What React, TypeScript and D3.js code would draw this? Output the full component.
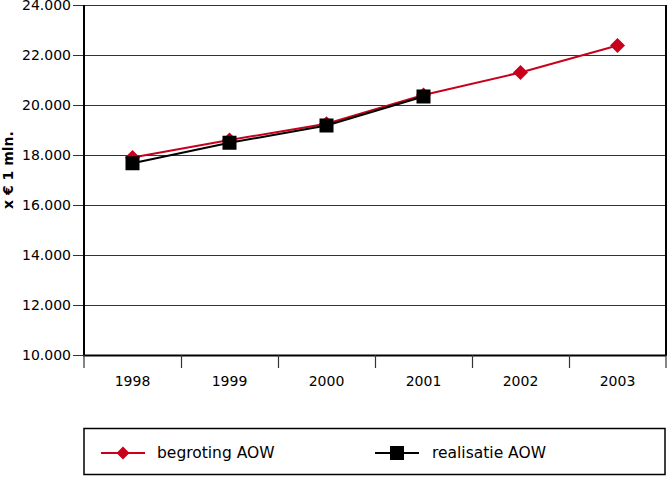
import React from "react";
import * as d3 from "d3";

const years = ["1998", "1999", "2000", "2001", "2002", "2003"];
const begroting = [17900, 18600, 19250, 20400, 21300, 22380];
const realisatie = [17670, 18490, 19180, 20340];
const yTicks = [10000, 12000, 14000, 16000, 18000, 20000, 22000, 24000];
const seriesNames = ["begroting AOW", "realisatie AOW"];
const yLabel = "x € 1 mln.";

const RED = "#c8001c";
const FONT = "DejaVu Sans, Verdana, sans-serif";

export default function App() {
  const W = 668, H = 477;
  const left = 84, right = 666, top = 5, bottom = 355;
  const x = d3.scaleBand<string>().domain(years).range([left, right]);
  const y = d3.scaleLinear().domain([10000, 24000]).range([bottom, top]);
  const fmt = (v: number) => d3.format(",")(v).replace(/,/g, ".");
  const cx = (i: number) => (x(years[i]) as number) + x.bandwidth() / 2;

  const line = d3.line<number>().x((_, i) => cx(i)).y((d) => y(d));
  const diamond = (px: number, py: number, r: number) =>
    `M${px},${py - r}L${px + r},${py}L${px},${py + r}L${px - r},${py}Z`;

  return (
    <svg width={W} height={H} style={{ position: "absolute", left: 0, top: 0, background: "#fff" }} fontFamily={FONT}>
      {/* gridlines */}
      {yTicks.map((t) => (
        <g key={t}>
          <line x1={73} x2={right} y1={y(t) + 0.5} y2={y(t) + 0.5} stroke="#333" strokeWidth={1.2} />
          <text x={71} y={y(t) + 5} textAnchor="end" fontSize={14} fill="#000">{fmt(t)}</text>
        </g>
      ))}
      {/* frame */}
      <line x1={left} x2={left} y1={top} y2={bottom + 1} stroke="#000" strokeWidth={2} />
      <line x1={left - 1} x2={right} y1={bottom + 0.5} y2={bottom + 0.5} stroke="#000" strokeWidth={2} />
      <line x1={right} x2={right} y1={top} y2={bottom + 1} stroke="#000" strokeWidth={2} />
      {/* x ticks */}
      {years.map((yr, i) => (
        <line key={"t" + yr} x1={(x(yr) as number) + (i === 0 ? 0 : 0.5)} x2={(x(yr) as number) + (i === 0 ? 0 : 0.5)} y1={bottom} y2={368} stroke="#333" strokeWidth={1.2} />
      ))}
      <line x1={right} x2={right} y1={bottom} y2={368} stroke="#333" strokeWidth={1.2} />
      {years.map((yr, i) => (
        <text key={"l" + yr} x={cx(i)} y={386} textAnchor="middle" fontSize={14} fill="#000">{yr}</text>
      ))}
      {/* y label */}
      <text transform={`translate(13,170) rotate(-90)`} textAnchor="middle" fontSize={14} fontWeight="bold" fill="#000">{yLabel}</text>
      {/* series */}
      <path d={line(begroting) || ""} fill="none" stroke={RED} strokeWidth={2} />
      <path d={line(realisatie) || ""} fill="none" stroke="#000" strokeWidth={2} />
      {begroting.map((v, i) => (
        <path key={"d" + i} d={diamond(cx(i), y(v), 7.5)} fill={RED} />
      ))}
      {realisatie.map((v, i) => (
        <rect key={"s" + i} x={cx(i) - 7} y={y(v) - 7} width={14} height={14} fill="#000" />
      ))}
      {/* legend */}
      <rect x={84} y={428.5} width={581} height={46} fill="none" stroke="#000" strokeWidth={1.5} />
      <line x1={101} x2={145} y1={453} y2={453} stroke={RED} strokeWidth={2} />
      <path d={diamond(123, 453, 6.5)} fill={RED} />
      <text x={157} y={457.5} fontSize={15.5} fill="#000">{seriesNames[0]}</text>
      <line x1={375} x2={419} y1={453} y2={453} stroke="#000" strokeWidth={2} />
      <rect x={390} y={446} width={14} height={14} fill="#000" />
      <text x={432} y={457.5} fontSize={15.5} fill="#000">{seriesNames[1]}</text>
    </svg>
  );
}
